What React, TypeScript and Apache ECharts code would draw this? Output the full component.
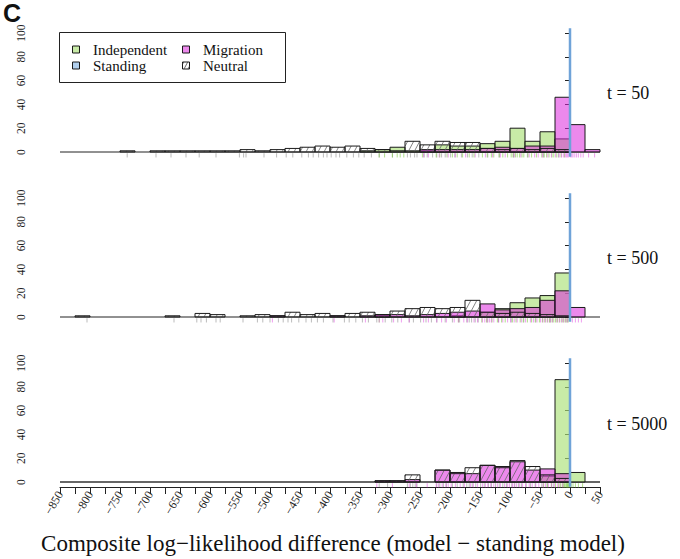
import { useEffect, useRef } from "react";
import * as echarts from "echarts";

// ---- bins: 36 bins of width 25 from -850 to 50 ----
const BIN_START = -850;
const BIN_WIDTH = 25;
const X_MIN = -850;
const X_MAX = 50;

const panelLabels = ["t = 50", "t = 500", "t = 5000"];

// counts per bin (index 0 = [-850,-825], ..., 35 = [25,50])
const independent50 = [0,0,0,0,0,0,0,0,0,0, 0,0,0,0,0,0,0,0,0,0, 1,2,4,1,1,6,5,5,7,9, 20,9,17,11,0,0];
const migration50 =   [0,0,0,0,0,0,0,0,0,0, 0,0,0,0,0,0,0,0,0,0, 0,0,0,0,2,2,2,2,3,4, 3,5,5,46,23,2];
const neutral50 =     [0,0,0,0,1,0,1,1,1,1, 1,1,2,1,2,3,4,5,4,5, 3,2,1,9,6,9,8,8,3,2, 3,2,3,2,0,0];

const independent500 = [0,0,0,0,0,0,0,0,0,0, 0,0,0,0,0,0,0,0,0,0, 0,1,0,0,0,0,1,0,4,7, 12,16,18,37,0,0];
const migration500 =   [0,0,0,0,0,0,0,0,0,0, 0,0,0,0,1,0,0,0,1,0, 1,2,2,1,2,3,4,5,11,6, 7,8,14,22,8,0];
const neutral500 =     [0,1,0,0,0,0,0,1,0,3, 2,0,1,2,1,4,2,3,1,3, 4,2,5,7,8,7,8,14,4,3, 4,3,2,1,0,0];

const independent5000 = [0,0,0,0,0,0,0,0,0,0, 0,0,0,0,0,0,0,0,0,0, 0,0,0,0,0,0,0,0,0,0, 0,0,5,86,8,0];
const migration5000 =   [0,0,0,0,0,0,0,0,0,0, 0,0,0,0,0,0,0,0,0,0, 0,1,1,2,0,10,8,7,14,13, 17,10,11,7,0,0];
const neutral5000 =     [0,0,0,0,0,0,0,0,0,0, 0,0,0,0,0,0,0,0,0,0, 0,1,1,6,0,10,7,12,14,12, 18,13,6,3,0,0];

// rug observations
const rugNeutral50 = [-738,-690,-665,-640,-618,-590,-551,-544,-540,-510,-489,-473,-462,-447,-436,-428,-419,-411,-405,-398,-390,-384,-372,-361,-352,-343,-331,-318,-296,-271,-266,-259,-255,-243,-238,-229,-222,-214,-208,-199,-192,-181,-171,-163,-152,-137,-118,-94,-71,-44,-19];
const rugIndependent50 = [-318,-309,-296,-288,-283,-277,-246,-223,-217,-205,-196,-188,-179,-168,-160,-146,-138,-131,-127,-118,-112,-104,-98,-95,-91,-88,-84,-80,-77,-70,-64,-56,-47,-43,-39,-35,-30,-27,-22,-15,-9];
const rugMigration50 = [-244,-236,-218,-203,-191,-174,-158,-141,-129,-116,-108,-93,-82,-68,-59,-53,-46,-37,-31,-24,-18,-14,-11,-8,-6,-4,-2,1,3,5,8,11,14,18,22,31,41];

const rugNeutral500 = [-805,-660,-622,-615,-606,-590,-583,-545,-521,-512,-500,-486,-478,-470,-464,-452,-440,-431,-421,-411,-395,-376,-368,-357,-346,-336,-322,-308,-297,-287,-268,-261,-249,-240,-231,-222,-208,-196,-184,-172,-168,-164,-158,-153,-137,-119,-98,-77,-58,-33];
const rugIndependent500 = [-318,-186,-147,-139,-130,-121,-114,-108,-96,-90,-83,-78,-71,-64,-57,-51,-46,-42,-38,-34,-30,-27,-24,-21,-17,-13,-10,-7,-5,-3];
const rugMigration500 = [-496,-393,-341,-318,-312,-294,-281,-268,-244,-236,-222,-214,-206,-193,-186,-177,-171,-160,-154,-146,-142,-138,-134,-131,-127,-119,-112,-104,-99,-93,-88,-81,-74,-66,-61,-55,-49,-45,-41,-37,-33,-29,-22,-18,-14,-11,-7,-4,4,9,14,19];

const rugNeutral5000 = [-318,-304,-271,-266,-262,-258,-255,-222,-217,-211,-206,-196,-188,-178,-172,-168,-163,-157,-149,-143,-136,-131,-124,-118,-112,-106,-97,-92,-86,-81,-73,-66,-58,-47,-38,-28];
const rugIndependent5000 = [-44,-38,-31,-24,-19,-16,-13,-11,-9,-8,-6,-5,-4,-3,-2,-1,2,5,9,14,21];
const rugMigration5000 = [-322,-296,-268,-256,-238,-223,-219,-213,-207,-203,-198,-191,-183,-176,-166,-161,-154,-146,-141,-137,-132,-127,-121,-116,-109,-104,-101,-96,-93,-89,-84,-79,-74,-68,-63,-57,-52,-45,-41,-36,-31,-26,-21,-17,-12];

const STANDING_VALUE = 0;

const legendNames = ["Independent", "Migration", "Standing", "Neutral"];

const GREEN = "rgba(170,225,120,0.65)";
const PINK = "rgba(220,40,220,0.55)";
const BLUE = "#6fa3d8";
const BLUE_SWATCH = "rgba(100,160,220,0.5)";
const BORDER = "#1a1a1a";
const SERIF = "'Liberation Serif', 'DejaVu Serif', serif";

const panels = [
  { ind: independent50, mig: migration50, neu: neutral50, rugN: rugNeutral50, rugI: rugIndependent50, rugM: rugMigration50 },
  { ind: independent500, mig: migration500, neu: neutral500, rugN: rugNeutral500, rugI: rugIndependent500, rugM: rugMigration500 },
  { ind: independent5000, mig: migration5000, neu: neutral5000, rugN: rugNeutral5000, rugI: rugIndependent5000, rugM: rugMigration5000 },
];

const GRID_TOPS = [33, 198, 363];
const GRID_H = 119;

function binsFrom(counts: number[]) {
  return counts
    .map((c, i) => [BIN_START + i * BIN_WIDTH, BIN_START + (i + 1) * BIN_WIDTH, c])
    .filter((d) => d[2] > 0);
}

function hatchLines(x0: number, y0: number, x1: number, y1: number, step: number, angleDeg: number) {
  const th = (angleDeg * Math.PI) / 180;
  const cx = Math.cos(th);
  const sy = Math.sin(th);
  const H = y1 - y0;
  const shift = (H * cx) / sy;
  const out: any[] = [];
  const kStart = Math.floor((x0 - shift) / step) - 1;
  const kEnd = Math.ceil(x1 / step) + 1;
  for (let k = kStart; k <= kEnd; k++) {
    const c = k * step;
    let tMin = 0;
    let tMax = H / sy;
    tMin = Math.max(tMin, (x0 - c) / cx);
    tMax = Math.min(tMax, (x1 - c) / cx);
    if (tMax > tMin + 0.3) {
      out.push({ x1: c + tMin * cx, y1: y1 - tMin * sy, x2: c + tMax * cx, y2: y1 - tMax * sy });
    }
  }
  return out;
}

function fillSeries(idx: number, counts: number[], color: string) {
  return {
    type: "custom",
    xAxisIndex: idx,
    yAxisIndex: idx,
    silent: true,
    encode: { x: [0, 1], y: 2 },
    data: binsFrom(counts),
    renderItem: (_p: any, api: any) => {
      const p0 = api.coord([api.value(0), api.value(2)]);
      const p1 = api.coord([api.value(1), 0]);
      return {
        type: "rect",
        shape: { x: p0[0], y: p0[1], width: p1[0] - p0[0], height: p1[1] - p0[1] },
        style: { fill: color, stroke: BORDER, lineWidth: 1 },
      };
    },
  };
}

function hatchSeries(idx: number, counts: number[]) {
  return {
    type: "custom",
    xAxisIndex: idx,
    yAxisIndex: idx,
    silent: true,
    encode: { x: [0, 1], y: 2 },
    data: binsFrom(counts),
    renderItem: (_p: any, api: any) => {
      const p0 = api.coord([api.value(0), api.value(2)]);
      const p1 = api.coord([api.value(1), 0]);
      const children: any[] = hatchLines(p0[0], p0[1], p1[0], p1[1], 6, 62).map((l) => ({
        type: "line",
        shape: l,
        style: { stroke: "#666", lineWidth: 0.8 },
      }));
      children.push({
        type: "rect",
        shape: { x: p0[0], y: p0[1], width: p1[0] - p0[0], height: p1[1] - p0[1] },
        style: { fill: "none", stroke: BORDER, lineWidth: 1 },
      });
      return { type: "group", children };
    },
  };
}

function rugSeries(idx: number, values: number[], color: string) {
  return {
    type: "custom",
    xAxisIndex: idx,
    yAxisIndex: idx,
    silent: true,
    encode: { x: 0, y: 1 },
    data: values.map((v) => [v, 0]),
    renderItem: (_p: any, api: any) => {
      const a = api.coord([api.value(0), -1]);
      const b = api.coord([api.value(0), -4.6]);
      return {
        type: "line",
        shape: { x1: a[0], y1: a[1], x2: b[0], y2: b[1] },
        style: { stroke: color, lineWidth: 1 },
      };
    },
  };
}

function baselineSeries(idx: number, color: string, width: number) {
  return {
    type: "custom",
    xAxisIndex: idx,
    yAxisIndex: idx,
    silent: true,
    encode: { x: [0, 1], y: 2 },
    data: [[X_MIN, X_MAX, 0]],
    renderItem: (_p: any, api: any) => {
      const a = api.coord([api.value(0), 0]);
      const b = api.coord([api.value(1), 0]);
      return {
        type: "line",
        shape: { x1: a[0], y1: a[1], x2: b[0], y2: b[1] },
        style: { stroke: color, lineWidth: width },
      };
    },
  };
}

function standingSeries(idx: number) {
  return {
    type: "custom",
    xAxisIndex: idx,
    yAxisIndex: idx,
    silent: true,
    encode: { x: 0, y: 1 },
    data: [[STANDING_VALUE, 0]],
    renderItem: (_p: any, api: any) => {
      const a = api.coord([api.value(0), -4]);
      const b = api.coord([api.value(0), 104]);
      return {
        type: "line",
        shape: { x1: a[0], y1: a[1], x2: b[0], y2: b[1] },
        style: { stroke: BLUE, lineWidth: 2.5 },
      };
    },
  };
}

function legendGraphic() {
  const items: any[] = [];
  items.push({
    type: "rect",
    shape: { x: 59.5, y: 32.5, width: 226, height: 50 },
    style: { fill: "#fff", stroke: "#222", lineWidth: 1 },
    z: 100,
  });
  const cols = [72, 182];
  const rows = [49.5, 65.5];
  const fills = [GREEN, PINK, BLUE_SWATCH, "#fff"];
  legendNames.forEach((name, i) => {
    const cx = cols[i % 2];
    const cy = rows[Math.floor(i / 2)];
    items.push({
      type: "rect",
      shape: { x: cx + 0.5, y: cy - 3.5, width: 7, height: 7 },
      style: { fill: fills[i], stroke: BORDER, lineWidth: 1 },
      z: 101,
    });
    if (name === "Neutral") {
      hatchLines(cx + 0.5, cy - 3.5, cx + 7.5, cy + 3.5, 4, 62).forEach((l) =>
        items.push({ type: "line", shape: l, style: { stroke: "#444", lineWidth: 0.8 }, z: 102 })
      );
    }
    items.push({
      type: "text",
      x: cx + 21,
      y: cy,
      style: { text: name, font: `15px ${SERIF}`, fill: "#111", textVerticalAlign: "middle" },
      z: 101,
    });
  });
  return items;
}

export default function App() {
  const ref = useRef<HTMLDivElement>(null);
  useEffect(() => {
    if (!ref.current) return;
    const chart = echarts.init(ref.current, undefined, { renderer: "svg" });

    const grids = GRID_TOPS.map((t) => ({ left: 60, width: 540, top: t, height: GRID_H }));
    const xAxes = GRID_TOPS.map((_t, i) => ({
      type: "value",
      gridIndex: i,
      min: X_MIN,
      max: X_MAX,
      interval: 25,
      show: i === 2,
      offset: 5,
      axisLine: { show: true, onZero: false, lineStyle: { color: "#222", width: 1 } },
      axisTick: { show: true, length: 7, lineStyle: { color: "#222", width: 1 } },
      splitLine: { show: false },
      axisLabel: {
        rotate: 60,
        margin: 5,
        fontSize: 12,
        fontFamily: SERIF,
        color: "#222",
        formatter: (v: number) => (Math.abs(v % 50) < 1e-6 ? String(v).replace("-", "\u2212") : ""),
      },
    }));
    const yAxes = GRID_TOPS.map((_t, i) => ({
      type: "value",
      gridIndex: i,
      min: 0,
      max: 100,
      interval: 20,
      offset: 25,
      axisLine: { show: true, lineStyle: { color: "#222", width: 1 } },
      axisTick: { show: true, length: 5, lineStyle: { color: "#222", width: 1 } },
      splitLine: { show: false },
      axisLabel: { rotate: 90, margin: 8, fontSize: 11.5, fontFamily: SERIF, color: "#222" },
    }));

    const series: any[] = [];
    panels.forEach((p, i) => {
      series.push(baselineSeries(i, i === 2 ? "#666" : "#222", i === 2 ? 2 : 1));
      series.push(rugSeries(i, p.rugN, "rgba(60,60,60,0.35)"));
      series.push(rugSeries(i, p.rugI, "rgba(120,200,60,0.6)"));
      series.push(rugSeries(i, p.rugM, "rgba(220,40,220,0.45)"));
      series.push(fillSeries(i, p.ind, GREEN));
      series.push(fillSeries(i, p.mig, PINK));
      series.push(hatchSeries(i, p.neu));
      series.push(standingSeries(i));
    });

    const graphics: any[] = [
      {
        type: "text",
        left: 3,
        top: 0,
        style: { text: "C", font: "bold 25px 'Liberation Sans', Arial, sans-serif", fill: "#111" },
      },
      ...legendGraphic(),
      ...panelLabels.map((t, i) => ({
        type: "text",
        x: 607,
        y: [93, 258, 424][i],
        style: { text: t, font: `18px ${SERIF}`, fill: "#111", textVerticalAlign: "middle" },
      })),
      {
        type: "text",
        x: 333,
        y: 543,
        style: {
          text: "Composite log\u2212likelihood difference (model \u2212 standing model)",
          font: `23px ${SERIF}`,
          fill: "#111",
          textAlign: "center",
          textVerticalAlign: "middle",
        },
      },
    ];

    chart.setOption({
      animation: false,
      backgroundColor: "#fff",
      grid: grids,
      xAxis: xAxes,
      yAxis: yAxes,
      series,
      graphic: graphics,
    });
    return () => chart.dispose();
  }, []);
  return (
    <div
      ref={ref}
      style={{ position: "absolute", left: 0, top: 0, width: 680, height: 559 }}
    />
  );
}
